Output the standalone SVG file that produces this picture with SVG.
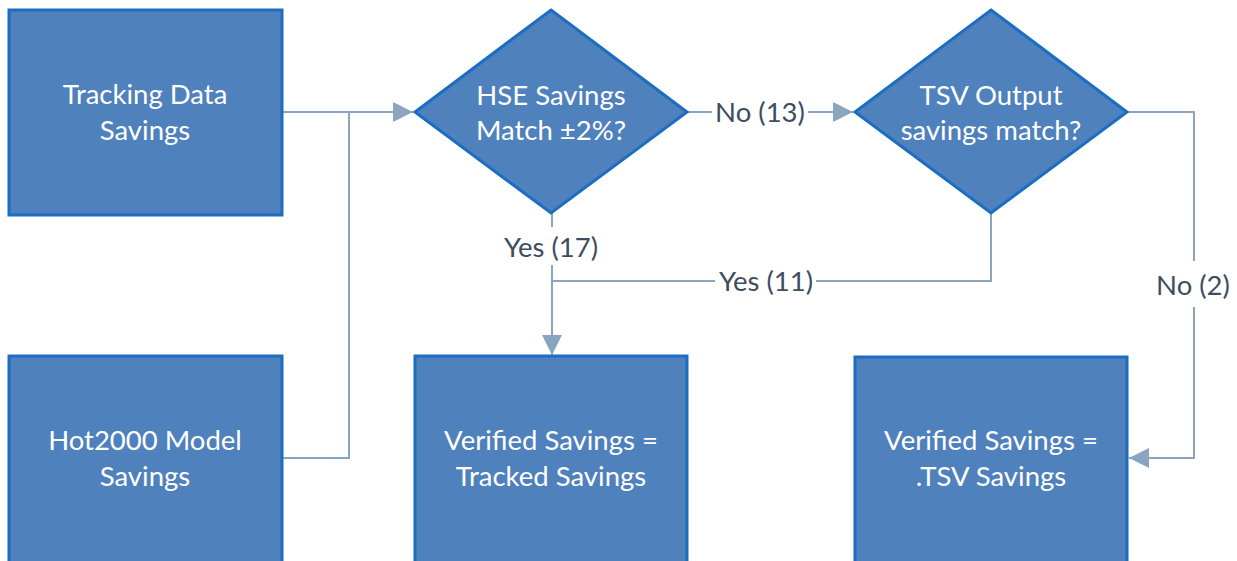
<svg xmlns="http://www.w3.org/2000/svg" width="1237" height="561" viewBox="0 0 1237 561">
<defs>
<style>
.box{fill:#4f81bd;stroke:#1b6ec2;stroke-width:3}
.nt{fill:#ffffff;font-family:Lato,"Open Sans","Liberation Sans",sans-serif;font-size:27.5px;text-anchor:middle}
.lbl{fill:#3e4e60;font-family:Lato,"Open Sans","Liberation Sans",sans-serif;font-size:27.5px;text-anchor:middle}
.ln{fill:none;stroke:#8aa5bf;stroke-width:2}
.bg{fill:#ffffff}
</style>
<marker id="ah" viewBox="0 0 10 10" refX="10" refY="5" markerWidth="20" markerHeight="20" markerUnits="userSpaceOnUse" orient="auto">
<path d="M0,0 L10,5 L0,10 Z" fill="#8aa5bf"/>
</marker>
</defs>
<rect width="1237" height="561" fill="#ffffff"/>
<g id="connectors">
<path class="ln" d="M282,112 H413" marker-end="url(#ah)"/>
<path class="ln" d="M282,458 H349 V112"/>
<path class="ln" d="M687,112 H853" marker-end="url(#ah)"/>
<path class="ln" d="M552,213 V355" marker-end="url(#ah)"/>
<path class="ln" d="M991,213 V281 H552"/>
<path class="ln" d="M1127,112 H1194 V458 H1129" marker-end="url(#ah)"/>
<rect class="bg" x="712" y="98" width="96" height="28"/>
<text class="lbl" x="760" y="122">No (13)</text>
<rect class="bg" x="499" y="227" width="104" height="38"/>
<text class="lbl" x="551" y="257">Yes (17)</text>
<rect class="bg" x="715" y="267" width="101" height="28"/>
<text class="lbl" x="766" y="291">Yes (11)</text>
<rect class="bg" x="1153" y="261" width="80" height="46"/>
<text class="lbl" x="1193" y="295">No (2)</text>
</g>
<g id="tracking">
<rect class="box" x="9" y="10" width="273" height="205"/>
<text class="nt" x="145" y="104">Tracking Data</text>
<text class="nt" x="145" y="140">Savings</text>
</g>
<g id="hot2000">
<rect class="box" x="9" y="356" width="273" height="207"/>
<text class="nt" x="145" y="450">Hot2000 Model</text>
<text class="nt" x="145" y="486">Savings</text>
</g>
<g id="hse">
<polygon class="box" points="551,10 687,112 551,213 415,112"/>
<text class="nt" x="551" y="105">HSE Savings</text>
<text class="nt" x="551" y="140">Match ±2%?</text>
</g>
<g id="tsv">
<polygon class="box" points="991,10 1127,112 991,213 855,112"/>
<text class="nt" x="991" y="105">TSV Output</text>
<text class="nt" x="991" y="140">savings match?</text>
</g>
<g id="verified-tracked">
<rect class="box" x="415" y="356" width="272" height="207"/>
<text class="nt" x="551" y="450">Verified Savings =</text>
<text class="nt" x="551" y="486">Tracked Savings</text>
</g>
<g id="verified-tsv">
<rect class="box" x="855" y="357" width="272" height="206"/>
<text class="nt" x="991" y="450">Verified Savings =</text>
<text class="nt" x="991" y="486">.TSV Savings</text>
</g>
</svg>
